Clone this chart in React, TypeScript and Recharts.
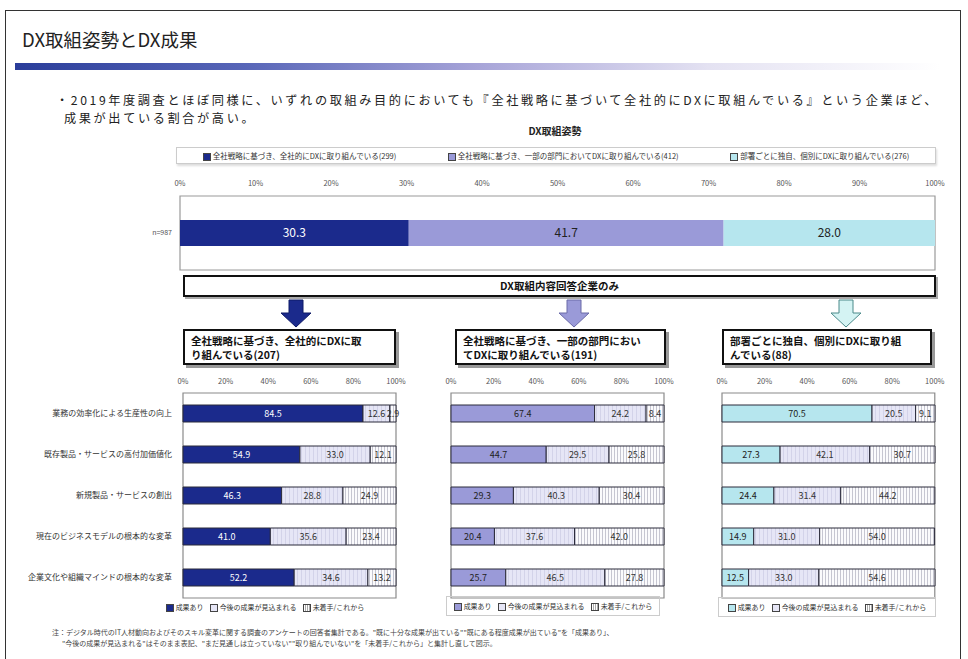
import React from 'react';
import { BarChart, Bar, XAxis, YAxis, LabelList, ReferenceArea } from 'recharts';

const FONT = '"Noto Sans CJK JP", "Noto Sans", sans-serif';

// ---- data ----
const postureNames = [
  '全社戦略に基づき、全社的にDXに取り組んでいる(299)',
  '全社戦略に基づき、一部の部門においてDXに取り組んでいる(412)',
  '部署ごとに独自、個別にDXに取り組んでいる(276)',
];
const postureValues = [30.3, 41.7, 28.0];
const postureRowLabel = 'n=987';
const topTicks = [0, 10, 20, 30, 40, 50, 60, 70, 80, 90, 100];

const categories = [
  '業務の効率化による生産性の向上',
  '既存製品・サービスの高付加価値化',
  '新規製品・サービスの創出',
  '現在のビジネスモデルの根本的な変革',
  '企業文化や組織マインドの根本的な変革',
];
const resultNames = ['成果あり', '今後の成果が見込まれる', '未着手/これから'];

const panelTitles = [
  ['全社戦略に基づき、全社的にDXに取', 'り組んでいる(207)'],
  ['全社戦略に基づき、一部の部門におい', 'てDXに取り組んでいる(191)'],
  ['部署ごとに独自、個別にDXに取り組', 'んでいる(88)'],
];
const p1Achieved = [84.5, 54.9, 46.3, 41.0, 52.2];
const p1Expected = [12.6, 33.0, 28.8, 35.6, 34.6];
const p1NotYet = [2.9, 12.1, 24.9, 23.4, 13.2];
const p2Achieved = [67.4, 44.7, 29.3, 20.4, 25.7];
const p2Expected = [24.2, 29.5, 40.3, 37.6, 46.5];
const p2NotYet = [8.4, 25.8, 30.4, 42.0, 27.8];
const p3Achieved = [70.5, 27.3, 24.4, 14.9, 12.5];
const p3Expected = [20.5, 42.1, 31.4, 31.0, 33.0];
const p3NotYet = [9.1, 30.7, 44.2, 54.0, 54.6];
const panelTicks = [0, 20, 40, 60, 80, 100];

const NAVY = '#1b2a8c';
const LAV = '#9a9ad8';
const CYAN = '#b6e6ee';
const mainColors = [NAVY, LAV, CYAN];
const mainLabelColors = ['#ffffff', '#222', '#222'];

const topData = [{ name: postureRowLabel, a: postureValues[0], b: postureValues[1], c: postureValues[2] }];

const mkPanel = (a: number[], b: number[], c: number[]) =>
  categories.map((name, i) => ({ name, a: a[i], b: b[i], c: c[i] }));
const panels = [
  mkPanel(p1Achieved, p1Expected, p1NotYet),
  mkPanel(p2Achieved, p2Expected, p2NotYet),
  mkPanel(p3Achieved, p3Expected, p3NotYet),
];

const fmt = (v: any) => (typeof v === 'number' ? v.toFixed(1) : v);

const Patterns = ({ id }: { id: string }) => (
  <defs>
    <pattern id={`dots-${id}`} width="4" height="4" patternUnits="userSpaceOnUse">
      <rect width="4" height="4" fill="#e6e6f6" />
      <rect x="1" y="0" width="0.8" height="4" fill="#cfcfe6" />
    </pattern>
    <pattern id={`vlines-${id}`} width="3" height="3" patternUnits="userSpaceOnUse">
      <rect width="3" height="3" fill="#fbfbfd" />
      <rect x="1" y="0" width="0.8" height="3" fill="#b9b9c6" />
    </pattern>
  </defs>
);

const Panel = ({ idx, left, showY }: { idx: number; left: number; showY: boolean }) => {
  const yw = showY ? 175 : 0;
  const ml = showY ? 0 : 12;
  const plotW = 213;
  const id = `p${idx}`;
  return (
    <div style={{ position: 'absolute', left: left - yw - ml, top: 373 }}>
      <BarChart
        width={ml + yw + plotW + 14}
        height={230}
        data={panels[idx]}
        layout="vertical"
        margin={{ top: 0, right: 14, bottom: 5, left: ml }}
        barCategoryGap={0}
      >
        <Patterns id={id} />
        <XAxis
          type="number"
          orientation="top"
          domain={[0, 100]}
          ticks={panelTicks}
          tickFormatter={(v) => `${v}%`}
          axisLine={false}
          tickLine={false}
          tickSize={4}
          tickMargin={5}
          height={20}
          tick={{ fontSize: 7.5, fill: '#555', fontFamily: FONT }}
          interval={0}
        />
        <YAxis
          type="category"
          dataKey="name"
          hide={!showY}
          width={yw}
          axisLine={false}
          tickLine={false}
          tickSize={0}
          tickMargin={11}
          tick={{ fontSize: 8, fill: '#333', fontFamily: FONT }}
          interval={0}
        />
        <ReferenceArea x1={0} x2={100} fill="#ffffff" fillOpacity={0} stroke="#8a8a8a" strokeWidth={1.2} ifOverflow="visible" />
        <Bar dataKey="a" stackId="s" fill={mainColors[idx]} stroke="#2a2a3a" strokeWidth={1} barSize={17} isAnimationActive={false}>
          <LabelList dataKey="a" position="center" formatter={fmt} fill={mainLabelColors[idx]} fontSize={9} fontFamily={FONT} />
        </Bar>
        <Bar dataKey="b" stackId="s" fill={`url(#dots-${id})`} stroke="#2a2a3a" strokeWidth={1} barSize={17} isAnimationActive={false}>
          <LabelList dataKey="b" position="center" formatter={fmt} fill="#333" fontSize={9} fontFamily={FONT} />
        </Bar>
        <Bar dataKey="c" stackId="s" fill={`url(#vlines-${id})`} stroke="#2a2a3a" strokeWidth={1} barSize={17} isAnimationActive={false}>
          <LabelList dataKey="c" position="center" formatter={fmt} fill="#333" fontSize={9} fontFamily={FONT} />
        </Bar>
      </BarChart>
    </div>
  );
};

const Arrow = ({ cx, fill, stroke }: { cx: number; fill: string; stroke: string }) => (
  <svg style={{ position: 'absolute', left: cx - 16, top: 299 }} width={32} height={29}>
    <polygon
      points="9,1 23,1 23,14 31,14 16,28 1,14 9,14"
      fill={fill}
      stroke={stroke}
      strokeWidth={1}
    />
  </svg>
);

const Sq = ({ fill, pat }: { fill: string; pat?: boolean }) => (
  <span
    style={{
      display: 'inline-block',
      width: 6,
      height: 6,
      marginRight: 2,
      border: '0.8px solid #444',
      background: pat
        ? 'repeating-linear-gradient(90deg, #fff 0px, #fff 1px, #aaa 1px, #aaa 2px)'
        : fill,
      verticalAlign: 'middle',
    }}
  />
);

const PanelLegend = ({ idx, left, top, width, box }: { idx: number; left: number; top: number; width: number; box: boolean }) => (
  <div
    style={{
      position: 'absolute',
      left,
      top,
      width,
      height: 20,
      border: box ? '1px solid #ccc' : 'none',
      boxSizing: 'border-box',
      display: 'flex',
      alignItems: 'center',
      justifyContent: 'center',
      gap: 6,
      fontSize: 7,
      color: '#333',
      whiteSpace: 'nowrap',
    }}
  >
    <span><Sq fill={mainColors[idx]} />{resultNames[0]}</span>
    <span><Sq fill="#e6e6f6" />{resultNames[1]}</span>
    <span><Sq fill="#fff" pat />{resultNames[2]}</span>
  </div>
);

const HeaderBox = ({ idx, left, width }: { idx: number; left: number; width: number }) => (
  <div
    style={{
      position: 'absolute',
      left,
      top: 329,
      width,
      height: 36,
      border: '2px solid #111',
      boxShadow: '3px 3px 0 #999',
      boxSizing: 'border-box',
      background: '#fff',
      fontSize: 10.5,
      fontWeight: 700,
      lineHeight: '14px',
      padding: '3px 6px',
      color: '#111',
      whiteSpace: 'nowrap',
    }}
  >
    {panelTitles[idx][0]}
    <br />
    {panelTitles[idx][1]}
  </div>
);

export default function App() {
  return (
    <div
      style={{
        position: 'absolute',
        left: 0,
        top: 0,
        width: 968,
        height: 659,
        background: '#fff',
        fontFamily: FONT,
        overflow: 'hidden',
      }}
    >
      {/* slide frame */}
      <div style={{ position: 'absolute', left: 5, top: 10, width: 956, height: 700, border: '1.5px solid #333', boxSizing: 'border-box' }} />

      {/* title */}
      <div style={{ position: 'absolute', left: 22, top: 26, fontSize: 18.5, color: '#222', whiteSpace: 'nowrap' }}>
        DX取組姿勢とDX成果
      </div>
      <div
        style={{
          position: 'absolute',
          left: 15,
          top: 63,
          width: 925,
          height: 7,
          background: 'linear-gradient(90deg, #2a3d9a 0%, #5866b8 25%, #a7a4d8 50%, #e4e2f2 75%, #ffffff 100%)',
        }}
      />

      {/* bullet text */}
      <div style={{ position: 'absolute', left: 56, top: 91, fontSize: 12.2, lineHeight: '18px', letterSpacing: 2.6, color: '#222', whiteSpace: 'nowrap' }}>
        <div>・2019年度調査とほぼ同様に、いずれの取組み目的においても『全社戦略に基づいて全社的にDXに取組んでいる』という企業ほど、</div>
        <div style={{ paddingLeft: 8 }}>成果が出ている割合が高い。</div>
      </div>

      {/* top chart title */}
      <div style={{ position: 'absolute', left: 505, top: 123, width: 100, textAlign: 'center', fontSize: 10, fontWeight: 700, color: '#222' }}>
        DX取組姿勢
      </div>

      {/* top legend */}
      <div
        style={{
          position: 'absolute',
          left: 176,
          top: 147,
          width: 760,
          height: 17,
          border: '1px solid #ccc',
          boxShadow: '1px 2px 2px #ddd',
          boxSizing: 'border-box',
          display: 'flex',
          alignItems: 'center',
          justifyContent: 'space-around',
          fontSize: 7.5,
          color: '#333',
          whiteSpace: 'nowrap',
        }}
      >
        {postureNames.map((n, i) => (
          <span key={n}>
            <Sq fill={mainColors[i]} />
            {n}
          </span>
        ))}
      </div>

      {/* top chart */}
      <div style={{ position: 'absolute', left: 130, top: 176 }}>
        <BarChart
          width={820}
          height={96}
          data={topData}
          layout="vertical"
          margin={{ top: 0, right: 15, bottom: 2, left: 0 }}
        >
          <XAxis
            type="number"
            orientation="top"
            domain={[0, 100]}
            ticks={topTicks}
            tickFormatter={(v) => `${v}%`}
            axisLine={false}
            tickLine={false}
            tickSize={4}
            tickMargin={6}
            height={20}
            interval={0}
            tick={{ fontSize: 7.5, fill: '#555', fontFamily: FONT }}
          />
          <YAxis
            type="category"
            dataKey="name"
            width={50}
            axisLine={false}
            tickLine={false}
            tickSize={0}
            tickMargin={8}
            tick={{ fontSize: 7, fill: '#555', fontFamily: FONT }}
          />
          <ReferenceArea x1={0} x2={100} fill="#fff" fillOpacity={0} stroke="#9a9a9a" strokeWidth={1.2} ifOverflow="visible" />
          {(['a', 'b', 'c'] as const).map((k, i) => (
            <Bar key={k} dataKey={k} stackId="s" fill={mainColors[i]} barSize={26} isAnimationActive={false}>
              <LabelList dataKey={k} position="center" formatter={fmt} fill={mainLabelColors[i]} fontSize={12} fontFamily={FONT} />
            </Bar>
          ))}
        </BarChart>
      </div>

      {/* banner */}
      <div
        style={{
          position: 'absolute',
          left: 183,
          top: 275,
          width: 753,
          height: 22,
          border: '2.5px solid #111',
          boxShadow: '2px 2px 0 #aaa',
          boxSizing: 'border-box',
          textAlign: 'center',
          fontSize: 10.5,
          fontWeight: 700,
          lineHeight: '17px',
          color: '#111',
        }}
      >
        DX取組内容回答企業のみ
      </div>

      {/* arrows */}
      <Arrow cx={296} fill={NAVY} stroke="#0e1a66" />
      <Arrow cx={574} fill={LAV} stroke="#6a6aa8" />
      <Arrow cx={846} fill="#d4f3f3" stroke="#4a8a8a" />

      {/* panel headers */}
      <HeaderBox idx={0} left={183} width={213} />
      <HeaderBox idx={1} left={455} width={211} />
      <HeaderBox idx={2} left={722} width={210} />

      {/* panels */}
      <Panel idx={0} left={183} showY={true} />
      <Panel idx={1} left={451} showY={false} />
      <Panel idx={2} left={722} showY={false} />

      {/* panel legends */}
      <PanelLegend idx={0} left={190} top={597} width={150} box={false} />
      <PanelLegend idx={1} left={446} top={596} width={214} box={true} />
      <PanelLegend idx={2} left={718} top={597} width={218} box={true} />

      {/* footnote */}
      <div style={{ position: 'absolute', left: 52, top: 627, fontSize: 7, lineHeight: '11px', color: '#444', whiteSpace: 'nowrap' }}>
        注：デジタル時代のIT人材動向およびそのスキル変革に関する調査のアンケートの回答者集計である。"既に十分な成果が出ている""既にある程度成果が出ている"を「成果あり」、
        <br />
        <span style={{ paddingLeft: 10 }}>
          "今後の成果が見込まれる"はそのまま表記、"まだ見通しは立っていない""取り組んでいない"を「未着手/これから」と集計し直して図示。
        </span>
      </div>
    </div>
  );
}
